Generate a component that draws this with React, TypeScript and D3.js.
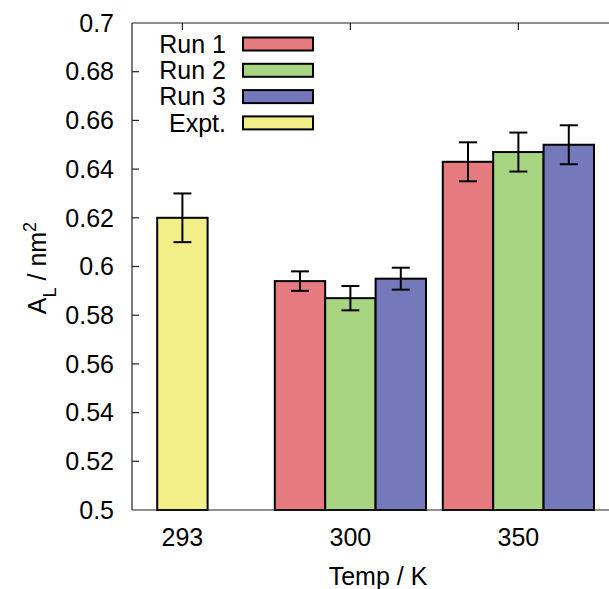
import React from "react";
import * as d3 from "d3";

const categories = ["293", "300", "350"];
const seriesNames = ["Run 1", "Run 2", "Run 3", "Expt."];
const seriesColors = ["#e57b7f", "#a8d582", "#7479bb", "#f2ee88"];
// values per category for each series (null = no bar)
const run1 = [null, 0.594, 0.643];
const run2 = [null, 0.587, 0.647];
const run3 = [null, 0.595, 0.65];
const expt = [0.62, null, null];
const run1Err = [null, 0.004, 0.008];
const run2Err = [null, 0.005, 0.008];
const run3Err = [null, 0.0045, 0.008];
const exptErr = [0.01, null, null];
const yTicks = [0.5, 0.52, 0.54, 0.56, 0.58, 0.6, 0.62, 0.64, 0.66, 0.68, 0.7];

const W = 609;
const H = 589;
const left = 132;
const right = 660;
const top = 23;
const bottom = 510;
const font = "Liberation Sans, Arial, sans-serif";
const fs = 25;

export default function App() {
  const x = d3.scaleLinear().domain([-0.3, 2.843]).range([left, right]);
  const y = d3.scaleLinear().domain([0.5, 0.7]).range([bottom, top]);
  const barW = x(0.3) - x(0);

  type Bar = { cx: number; v: number; e: number; color: string };
  const bars: Bar[] = [];
  categories.forEach((_, i) => {
    const present: { v: number; e: number; color: string }[] = [];
    const all = [run1, run2, run3];
    const errs = [run1Err, run2Err, run3Err];
    all.forEach((s, k) => {
      const v = s[i];
      if (v != null) present.push({ v, e: errs[k][i] as number, color: seriesColors[k] });
    });
    if (expt[i] != null) present.push({ v: expt[i] as number, e: exptErr[i] as number, color: seriesColors[3] });
    const n = present.length;
    present.forEach((p, j) => {
      const cx = x(i) + (j - (n - 1) / 2) * barW;
      bars.push({ cx, ...p });
    });
  });

  const fmt = (v: number) => String(+v.toFixed(2));

  return (
    <svg width={W} height={H} style={{ position: "absolute", left: 0, top: 0, background: "#fff" }}>
      {/* bars */}
      {bars.map((b, i) => (
        <g key={i}>
          <rect
            x={b.cx - barW / 2}
            y={y(b.v)}
            width={barW}
            height={y(0.5) - y(b.v)}
            fill={b.color}
            stroke="#000"
            strokeWidth={2}
          />
        </g>
      ))}
      {/* axes frame */}
      <line x1={left} x2={right} y1={top} y2={top} stroke="#222" strokeWidth={1.2} />
      <line x1={left} x2={right} y1={bottom} y2={bottom} stroke="#222" strokeWidth={1.2} />
      <line x1={left} x2={left} y1={top} y2={bottom} stroke="#222" strokeWidth={1.2} />
      {/* y ticks */}
      {yTicks.map((t) => (
        <g key={t}>
          {t > 0.5 && t < 0.7 && (
            <line x1={left} x2={left + 7} y1={y(t)} y2={y(t)} stroke="#222" strokeWidth={1.2} />
          )}
          <text x={114} y={y(t)} dy="0.35em" textAnchor="end" fontFamily={font} fontSize={fs} fill="#000">
            {fmt(t)}
          </text>
        </g>
      ))}
      {/* x ticks */}
      {categories.map((c, i) => (
        <g key={c}>
          <line x1={x(i)} x2={x(i)} y1={top} y2={top + 7} stroke="#222" strokeWidth={1.2} />
          <text x={x(i)} y={546} textAnchor="middle" fontFamily={font} fontSize={fs} fill="#000">
            {c}
          </text>
        </g>
      ))}
      {/* error bars */}
      {bars.map((b, i) => (
        <g key={"e" + i} stroke="#000" strokeWidth={2}>
          <line x1={b.cx} x2={b.cx} y1={y(b.v + b.e)} y2={y(b.v - b.e)} />
          <line x1={b.cx - 9} x2={b.cx + 9} y1={y(b.v + b.e)} y2={y(b.v + b.e)} />
          <line x1={b.cx - 9} x2={b.cx + 9} y1={y(b.v - b.e)} y2={y(b.v - b.e)} />
        </g>
      ))}
      {/* legend */}
      {seriesNames.map((s, i) => {
        const cy = 44 + i * 26.3;
        return (
          <g key={s}>
            <text x={226} y={cy} dy="0.35em" textAnchor="end" fontFamily={font} fontSize={fs} fill="#000">
              {s}
            </text>
            <rect x={243} y={cy - 6.5} width={70} height={13} fill={seriesColors[i]} stroke="#000" strokeWidth={2} />
          </g>
        );
      })}
      {/* axis titles */}
      <text x={378} y={585} textAnchor="middle" fontFamily={font} fontSize={fs} fill="#000">
        Temp / K
      </text>
      <text
        transform={`translate(46, 268) rotate(-90)`}
        textAnchor="middle"
        fontFamily={font}
        fontSize={fs}
        fill="#000"
      >
        A<tspan baselineShift="sub" fontSize={18}>L</tspan>
        <tspan> / nm</tspan>
        <tspan baselineShift="super" fontSize={18}>2</tspan>
      </text>
    </svg>
  );
}
